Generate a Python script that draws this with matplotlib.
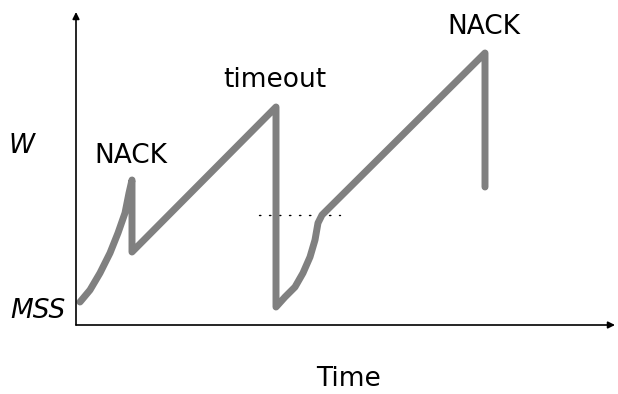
import matplotlib

matplotlib.use('agg')
import matplotlib.pyplot as plt

# window size over time (arbitrary units: x = time, y = window above baseline)
time = [4, 14, 24, 34, 42, 49, 53, 56, 56, 200, 200, 209, 219, 227, 234,
        239, 242, 246, 409, 409]
window = [23, 35, 52, 72, 92, 112, 132, 145, 73, 218, 18, 28, 38, 52, 68,
          85, 102, 110, 272, 138]

# threshold level marked with dots
thresh_x = [183, 264]
thresh_y = 110

events = ['NACK', 'timeout', 'NACK']
event_x = [55, 199, 408]
event_y = [162, 238, 291]

line_color = '#808080'

fig = plt.figure(figsize=(6.18, 3.94), dpi=100)
ax = fig.add_axes([76 / 618, 69 / 394, 539 / 618, 313 / 394])
ax.set_xlim(0, 539)
ax.set_ylim(0, 313)
ax.axis('off')

# axes with arrow heads
ax.annotate('', xy=(0, 313), xytext=(0, 0),
            arrowprops=dict(arrowstyle='-|>', lw=1.2, color='black',
                            mutation_scale=10, shrinkA=0, shrinkB=0))
ax.annotate('', xy=(539, 0), xytext=(0, 0),
            arrowprops=dict(arrowstyle='-|>', lw=1.2, color='black',
                            mutation_scale=10, shrinkA=0, shrinkB=0))

ax.plot(thresh_x, [thresh_y, thresh_y], linestyle=(0, (1, 6.2)),
        color='black', lw=1.0, dash_capstyle='round')
ax.plot(time, window, color=line_color, lw=5, solid_capstyle='round',
        solid_joinstyle='round')

for txt, x, y in zip(events, event_x, event_y):
    ax.text(x, y, txt, ha='center', va='baseline', fontsize=19)

ax.text(-68, 172, 'W', ha='left', va='baseline', fontsize=19, style='italic',
        clip_on=False)
ax.text(-10, 7, 'MSS', ha='right', va='baseline', fontsize=19, style='italic',
        clip_on=False)
ax.text(272, -61, 'Time', ha='center', va='baseline', fontsize=19,
        clip_on=False)

plt.savefig('out.png', dpi=100)
